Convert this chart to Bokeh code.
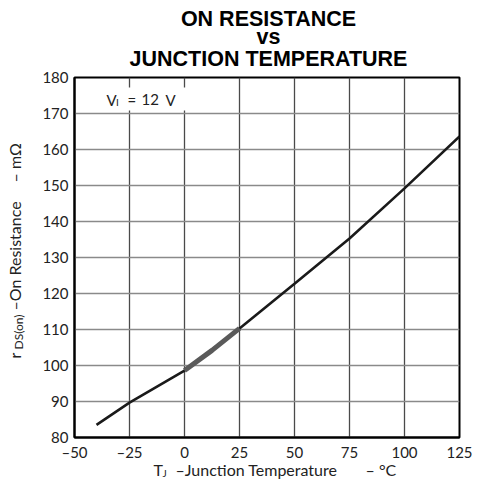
import math
from bokeh.plotting import figure
from bokeh.models import Range1d, BoxAnnotation, FixedTicker
from bokeh.core.properties import value
from bokeh.embed import file_html
from bokeh.resources import INLINE

# ---- data ----
temperature = [-40, -25, 0, 25, 50, 75, 100, 125]
resistance = [83.5, 89.7, 98.6, 110.3, 122.7, 135.3, 149.2, 163.6]
hl_temperature = [0, 12.5, 25]
hl_resistance = [98.6, 104.2, 110.3]
x_ticks = [-50, -25, 0, 25, 50, 75, 100, 125]
y_ticks = [80, 90, 100, 110, 120, 130, 140, 150, 160, 170, 180]

X0, X1, Y0, Y1 = -50, 125, 80, 180

p = figure(width=477, height=482, output_backend="svg", toolbar_location=None,
           x_range=Range1d(X0, X1), y_range=Range1d(Y0, Y1),
           min_border_left=74, min_border_right=18, min_border_top=77,
           min_border_bottom=45)
p.background_fill_color = "white"
p.border_fill_color = "white"
p.outline_line_color = "black"
p.outline_line_width = 2

# frame position on the page (px) -> data coordinates, for text placement
FL, FR, FT, FB = 74, 459, 77, 437
def px(xp):
    return X0 + (xp - FL) * (X1 - X0) / (FR - FL)
def py(yp):
    return Y0 + (FB - yp) * (Y1 - Y0) / (FB - FT)

for ax in (p.xaxis[0], p.yaxis[0]):
    ax.axis_line_color = "black"
    ax.axis_line_width = 2
    ax.major_tick_line_color = None
    ax.minor_tick_line_color = None
    ax.major_tick_out = 0
    ax.major_tick_in = 0
    ax.major_label_text_font = "Lato"
    ax.major_label_text_font_size = "15px"
    ax.major_label_text_color = "#222222"
p.xaxis.ticker = FixedTicker(ticks=x_ticks)
p.yaxis.ticker = FixedTicker(ticks=y_ticks)
p.xaxis.major_label_overrides = {t: (str(t).replace("-", "\u2013")) for t in x_ticks}
p.xaxis.major_label_standoff = 5
p.yaxis.major_label_standoff = 6

p.xgrid.ticker = FixedTicker(ticks=x_ticks)
p.ygrid.ticker = FixedTicker(ticks=y_ticks)
p.xgrid.grid_line_color = "#4a4a4a"
p.xgrid.grid_line_width = 1.3
p.ygrid.grid_line_color = "#8a8a8a"
p.ygrid.grid_line_width = 1.6

p.line(temperature, resistance, line_color="#1a1a1a", line_width=2.6)
p.line(hl_temperature, hl_resistance, line_color="#5a5a5a", line_width=5)

p.add_layout(BoxAnnotation(left=px(78), right=px(188), top=py(87), bottom=py(110),
                           fill_color="white", fill_alpha=1, line_color=None))

SHIFT = 7  # measured baseline shift of the text glyph

def put(xp, yp, txt, size, font="Lato", bold=False, align="left",
        angle=0.0, color="#222222"):
    if angle:
        xp = xp - SHIFT
    else:
        yp = yp - SHIFT
    p.text(x=[px(xp)], y=[py(yp)], text=[txt], text_font=value(font),
           text_font_size=value(f"{size}px"),
           text_font_style="bold" if bold else "normal",
           text_align=align, text_baseline="alphabetic", angle=angle,
           text_color=color, level="overlay")

# condition note
put(106, 106, "V", 15)
put(115.5, 108.5, "I", 10)
put(127, 106, "=", 15)
put(141, 106, "12", 15)
put(165, 106, "V", 15)

# title
for txt, yb in (("ON RESISTANCE", 25), ("vs", 43.5), ("JUNCTION TEMPERATURE", 65)):
    put(268, yb, txt, 21.5, font="Liberation Sans", bold=True, align="center",
        color="black")

# x axis label
put(153, 476, "T", 16)
put(162, 479, "J", 10)
put(175, 476, "\u2013Junction Temperature", 16)
put(365, 476, "\u2013 \u00b0C", 16)

# y axis label (rotated)
A = math.pi / 2
put(21, 358, "r", 16, angle=A)
put(25, 349, "DS(on)", 12, angle=A)
put(21, 310, "\u2013On Resistance", 16, angle=A)
put(21, 182, "\u2013 m\u03a9", 16, angle=A)

open("out.html", "w").write(file_html(p, INLINE))
